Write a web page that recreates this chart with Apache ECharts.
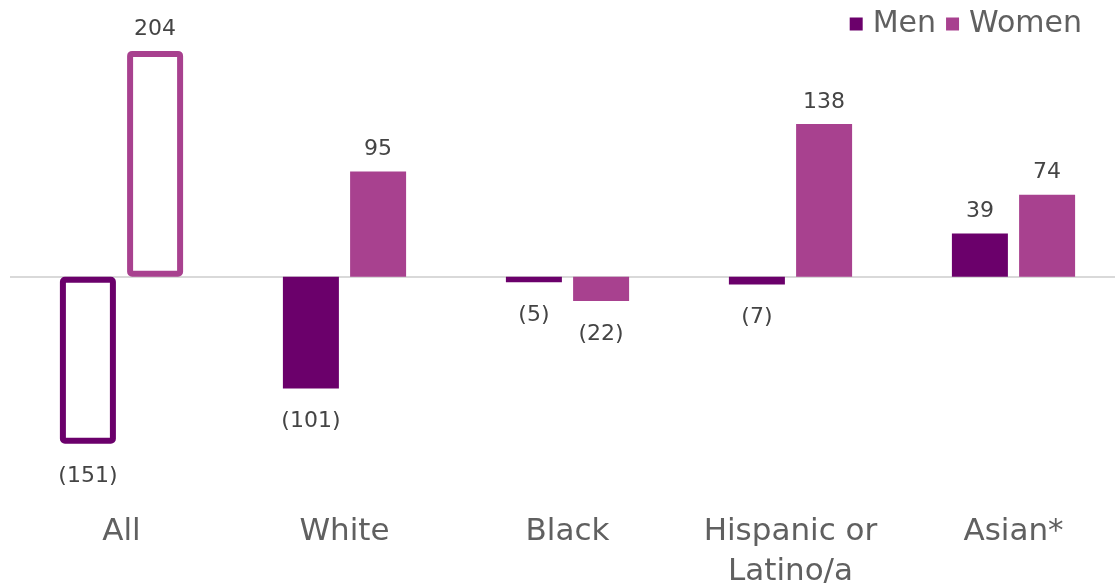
<!DOCTYPE html>
<html>
<head>
<meta charset="utf-8">
<script src="https://cdn.jsdelivr.net/npm/echarts@6/dist/echarts.min.js"></script>
<style>
  html, body { margin: 0; padding: 0; background: #fff; }
  #chart { width: 1115px; height: 587px; }
</style>
</head>
<body>
<div id="chart"></div>
<script>
// Change by group (men vs. women)
const categories = ['All', 'White', 'Black', 'Hispanic or\nLatino/a', 'Asian*'];
const menValues = [-151, -101, -5, -7, 39];
const womenValues = [204, 95, -22, 138, 74];
// Groups drawn as outlined bars rather than filled ones
const outlinedCategories = ['All'];

const MEN_COLOR = '#6B006B';
const WOMEN_COLOR = '#A8418F';
const FONT = '"DejaVu Sans", sans-serif';

function fmt(v) {
  return v < 0 ? '(' + Math.abs(v) + ')' : String(v);
}

function buildData(values, color) {
  return values.map((v, i) => {
    const item = {
      value: v,
      label: {
        position: v < 0 ? 'bottom' : 'top',
        distance: v < 0 ? 22 : 11
      }
    };
    if (outlinedCategories.includes(categories[i])) {
      item.itemStyle = {
        color: '#ffffff',
        borderColor: color,
        borderWidth: 6,
        borderRadius: 2
      };
    }
    return item;
  });
}

function makeSeries(name, values, color) {
  return {
    name: name,
    type: 'bar',
    barWidth: 56,
    barGap: '20%',
    itemStyle: { color: color },
    label: {
      show: true,
      fontFamily: FONT,
      fontSize: 22,
      color: '#444444',
      formatter: p => fmt(p.value)
    },
    data: buildData(values, color)
  };
}

const chart = echarts.init(document.getElementById('chart'));
const option = {
  animation: false,
  backgroundColor: '#ffffff',
  legend: {
    right: 28,
    top: 4,
    itemWidth: 13,
    itemHeight: 13,
    itemGap: 10,
    icon: 'rect',
    textStyle: {
      fontFamily: FONT,
      fontSize: 30,
      color: '#606060',
      padding: [0, 0, 0, 5]
    },
    data: ['Men', 'Women']
  },
  grid: {
    left: 10,
    top: 0,
    width: 1115,
    height: 498,
    containLabel: false,
    outerBoundsMode: 'none'
  },
  xAxis: {
    type: 'category',
    data: categories,
    axisLine: { show: false },
    axisTick: { show: false },
    axisLabel: {
      interval: 0,
      hideOverlap: false,
      margin: 14,
      fontFamily: FONT,
      fontSize: 31,
      lineHeight: 40,
      color: '#606060'
    }
  },
  yAxis: {
    type: 'value',
    min: -200,
    max: 250,
    show: false,
    splitLine: { show: false }
  },
  series: [
    Object.assign(makeSeries('Men', menValues, MEN_COLOR), {
      markLine: {
        silent: true,
        symbol: 'none',
        label: { show: false },
        lineStyle: { color: '#D9D9D9', width: 2, type: 'solid' },
        data: [{ yAxis: 0 }],
        z: 1
      }
    }),
    makeSeries('Women', womenValues, WOMEN_COLOR)
  ]
};
chart.setOption(option);
</script>
</body>
</html>
